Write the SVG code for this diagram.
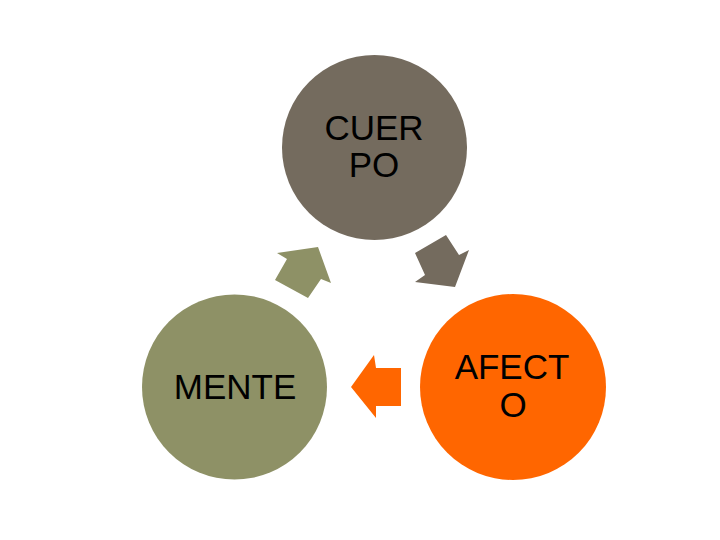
<svg xmlns="http://www.w3.org/2000/svg" width="720" height="540" viewBox="0 0 720 540">
<style>
.lbl{font-family:"Liberation Sans",Arial,sans-serif;font-size:35px;fill:#000;text-anchor:middle}
</style>
<rect width="720" height="540" fill="#fff"/>
<g id="connectors">
<polygon points="318,247 331,283 321,279 308,298 275,280 287,259 277,253" fill="#8e9166"/>
<polygon points="446,235 415,253 425,275 415,282 455,287 469,250 459,255" fill="#746b5e"/>
<polygon points="351,387 374,355 376,368 401,368 401,406 376,406 376,418" fill="#ff6600"/>
</g>
<g id="cuerpo">
<circle cx="374.5" cy="147.5" r="92.5" fill="#746b5e"/>
<text class="lbl" x="374" y="140">CUER</text>
<text class="lbl" x="374" y="177">PO</text>
</g>
<g id="mente">
<circle cx="234.5" cy="387" r="92.5" fill="#8e9166"/>
<text class="lbl" x="235" y="399">MENTE</text>
</g>
<g id="afecto">
<circle cx="513" cy="387" r="93" fill="#ff6600"/>
<text class="lbl" x="512" y="379">AFECT</text>
<text class="lbl" x="513" y="417">O</text>
</g>
</svg>
